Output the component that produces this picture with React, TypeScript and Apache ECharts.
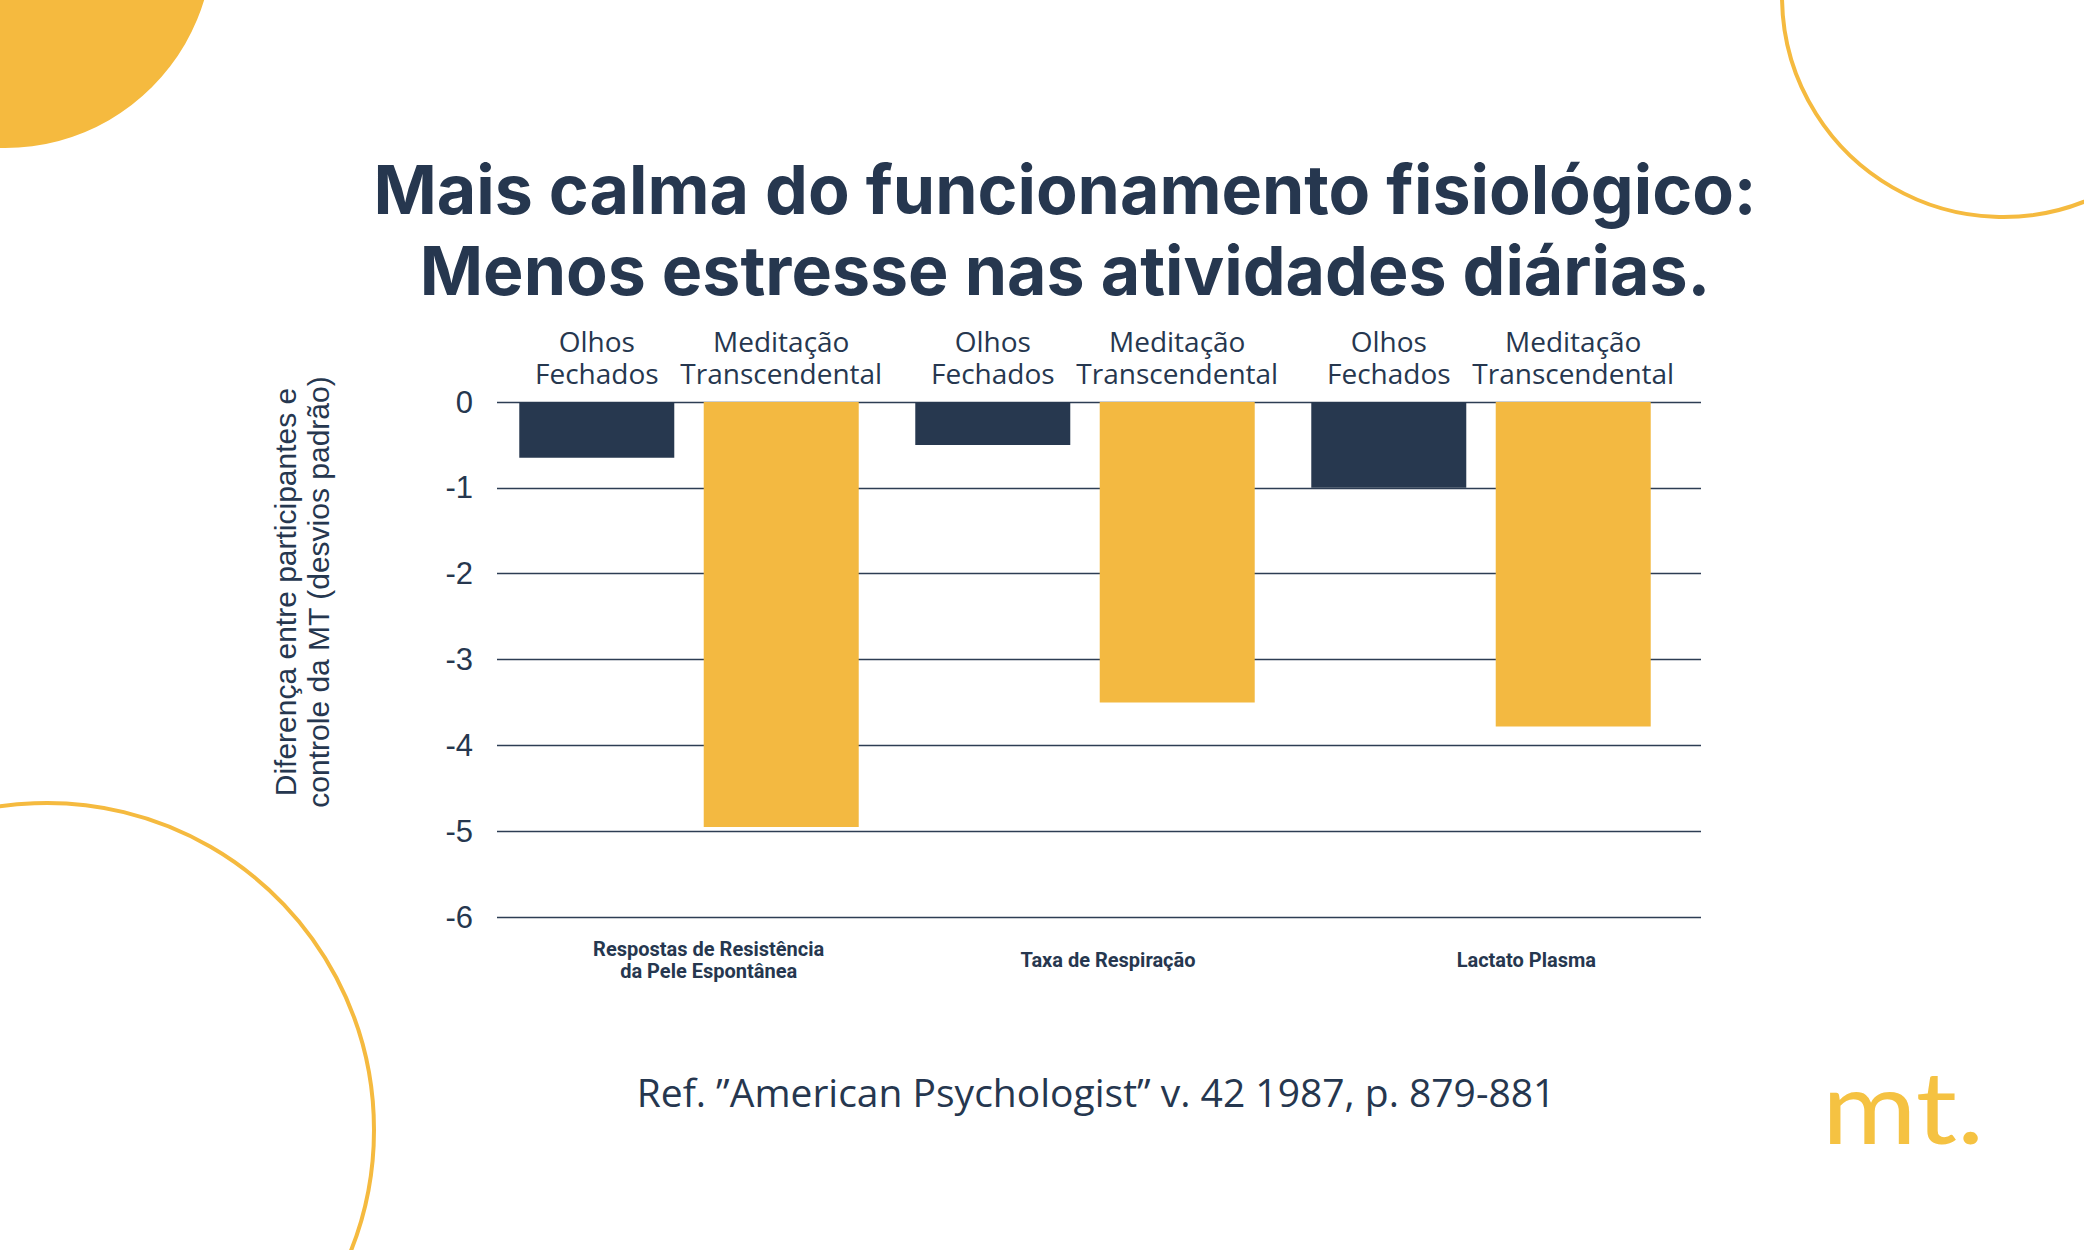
import React, { useEffect, useRef } from "react";
import * as echarts from "echarts";

const categories = [
  "Respostas de Resistência\nda Pele Espontânea",
  "Taxa de Respiração",
  "Lactato Plasma",
];
const olhosFechados = [-0.65, -0.5, -1.0];
const meditacaoTM = [-4.95, -3.5, -3.78];
const seriesNames = ["Olhos Fechados", "Meditação Transcendental"];
const barLabels = ["Olhos\nFechados", "Meditação\nTranscendental"];
const yMin = -6;
const yMax = 0;
const titleText = "Mais calma do funcionamento fisiológico:\nMenos estresse nas atividades diárias.";
const yAxisTitle = "Diferença entre participantes e\ncontrole da MT (desvios padrão)";
const sourceText = "Ref. ”American Psychologist” v. 42 1987, p. 879-881";
const logoText = "mt.";

const NAVY = "#26374f";
const DARK_BAR = "#27384f";
const YELLOW = "#f3b941";
const DECO = "#f5ba3f";

const labelShift = [22, 18, 52];

export default function App() {
  const ref = useRef<HTMLDivElement>(null);
  useEffect(() => {
    if (!ref.current) return;
    const chart = echarts.init(ref.current, null, { renderer: "svg" });
    const gridTop = 402;
    const gridHeight = 515;
    const barLabel = (i: number) => ({
      show: true,
      position: "top",
      distance: 13,
      formatter: () => barLabels[i],
      fontFamily: "Open Sans",
      fontSize: 28,
      lineHeight: 32,
      color: NAVY,
    });
    const richStyle = (shift: number) => ({
      padding: [0, 0, 0, shift],
      fontFamily: "Roboto",
      fontWeight: "bold",
      fontSize: 20,
      lineHeight: 22,
      color: NAVY,
    });
    const option: any = {
      animation: false,
      backgroundColor: "#ffffff",
      title: {
        text: titleText,
        left: 1060,
        top: 143,
        textAlign: "center",
        textStyle: {
          fontFamily: "Inter",
          fontWeight: 700,
          fontSize: 68,
          lineHeight: 81,
          color: NAVY,
        },
      },
      grid: [
        { left: 497, top: gridTop, width: 1204, height: gridHeight },
        { left: 491, top: gridTop, width: 1188, height: gridHeight },
      ],
      xAxis: [
        {
          type: "category",
          gridIndex: 0,
          data: categories,
          axisLine: { show: false },
          axisTick: { show: false },
          axisLabel: {
            margin: 43,
            verticalAlign: "middle",
            formatter: (v: string, i: number) =>
              v
                .split("\n")
                .map((line) => `{s${i}|${line}}`)
                .join("\n"),
            rich: {
              s0: richStyle(labelShift[0]),
              s1: richStyle(labelShift[1]),
              s2: richStyle(labelShift[2]),
            },
          },
        },
        {
          type: "category",
          gridIndex: 1,
          data: categories,
          show: false,
        },
      ],
      yAxis: [
        {
          type: "value",
          gridIndex: 0,
          min: yMin,
          max: yMax,
          interval: 1,
          axisLine: { show: false },
          axisTick: { show: false },
          axisLabel: {
            margin: 24,
            fontFamily: "Liberation Sans",
            fontSize: 31,
            color: NAVY,
          },
          splitLine: { lineStyle: { color: "#2d3d54", width: 1.3 } },
        },
        {
          type: "value",
          gridIndex: 1,
          min: yMin,
          max: yMax,
          show: false,
          splitLine: { show: false },
        },
      ],
      series: [
        {
          name: seriesNames[0],
          type: "bar",
          xAxisIndex: 1,
          yAxisIndex: 1,
          data: olhosFechados,
          barWidth: 155,
          barGap: "19%",
          itemStyle: { color: DARK_BAR },
          label: barLabel(0),
        },
        {
          name: seriesNames[1],
          type: "bar",
          xAxisIndex: 1,
          yAxisIndex: 1,
          data: meditacaoTM,
          barWidth: 155,
          barGap: "19%",
          itemStyle: { color: YELLOW },
          label: barLabel(1),
        },
      ],
      graphic: [
        {
          type: "circle",
          shape: { cx: 5, cy: -60, r: 208 },
          style: { fill: DECO },
          silent: true,
        },
        {
          type: "circle",
          shape: { cx: 2003, cy: -4, r: 221 },
          style: { fill: "none", stroke: DECO, lineWidth: 4 },
          silent: true,
        },
        {
          type: "circle",
          shape: { cx: 47, cy: 1130, r: 327 },
          style: { fill: "none", stroke: DECO, lineWidth: 4 },
          silent: true,
        },
        {
          type: "text",
          x: 302,
          y: 592,
          rotation: Math.PI / 2,
          style: {
            text: yAxisTitle,
            align: "center",
            verticalAlign: "middle",
            fontFamily: "Liberation Sans",
            fontSize: 30,
            lineHeight: 33,
            fill: NAVY,
          },
        },
        {
          type: "text",
          x: 1096,
          y: 1091,
          style: {
            text: sourceText,
            align: "center",
            verticalAlign: "middle",
            fontFamily: "Open Sans",
            fontSize: 39,
            fill: NAVY,
          },
        },
        {
          type: "text",
          x: 1822,
          y: 1105,
          scaleX: 1.15,
          style: {
            text: logoText,
            align: "left",
            verticalAlign: "middle",
            fontFamily: "Lato",
            fontSize: 100,
            fill: "#f5c242",
          },
        },
      ],
    };
    chart.setOption(option);
    return () => chart.dispose();
  }, []);
  return (
    <div
      ref={ref}
      style={{ position: "fixed", left: 0, top: 0, width: 2084, height: 1250 }}
    />
  );
}
